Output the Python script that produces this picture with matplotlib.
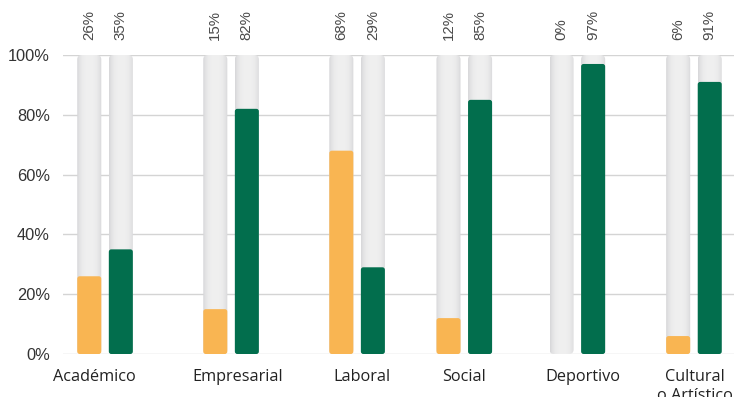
import numpy as np
import matplotlib
matplotlib.use("Agg")
import matplotlib.pyplot as plt
from matplotlib.patches import FancyBboxPatch

# ── Data ──────────────────────────────────────────────────────────────────────
categories = ["Académico", "Empresarial", "Laboral", "Social", "Deportivo", "Cultural\no Artístico"]
orange_vals = [26, 15, 68, 12, 0, 6]
green_vals = [35, 82, 29, 85, 97, 91]
y_ticks = [0, 20, 40, 60, 80, 100]

# layout: group centres (slightly uneven, as in the source chart)
group_pos = [0.0, 1.07, 2.14, 3.05, 4.01, 5.0]
label_shift = [-0.09, 0.06, 0.04, 0.0, 0.05, 0.01]

ORANGE = "#f9b552"
GREEN = "#026e4d"
GRID = "#d4d4d4"

W, H, DPI = 7.34, 3.97, 100
fig = plt.figure(figsize=(W, H), dpi=DPI)
ax = fig.add_axes([63 / 734, 43 / 397, 671 / 734, 299 / 397])

x = np.array(group_pos)
off = 0.134
bw = 0.204
XLIM = (-0.357, 5.34)
ax.set_xlim(*XLIM)
ax.set_ylim(0, 100)

# pixel aspect so rounded corners look round
bb = ax.get_window_extent()
px_x = bb.width / (XLIM[1] - XLIM[0])
px_y = bb.height / 100
aspect = px_x / px_y

grad = np.linspace(0, 1, 64)
shade = 1 - 0.9 * (np.abs(grad - 0.5) * 2) ** 3
bg_img = np.zeros((1, 64, 3))
lo, hi = np.array([0.83, 0.83, 0.84]), np.array([0.94, 0.94, 0.94])
bg_img[0] = lo + (hi - lo) * shade[:, None]


def rbar(xc, h, color=None, r_px=3.5, gradient=False):
    if h <= 0:
        return
    r = r_px / px_x
    p = FancyBboxPatch((xc - bw / 2, 0), bw, h,
                       boxstyle=f"round,pad=0,rounding_size={r}",
                       mutation_aspect=aspect, lw=0,
                       facecolor=color if color else "none", zorder=3 if color else 2)
    ax.add_patch(p)
    if gradient:
        im = ax.imshow(bg_img, extent=(xc - bw / 2, xc + bw / 2, 0, h),
                       aspect="auto", zorder=2, interpolation="bilinear")
        im.set_clip_path(p)


for i in range(len(categories)):
    for xc, v, c in ((x[i] - off, orange_vals[i], ORANGE), (x[i] + off, green_vals[i], GREEN)):
        rbar(xc, 100, gradient=True, r_px=4.5)
        rbar(xc, v, color=c, r_px=2.5)
        ax.annotate(f"{v}%", xy=(xc, 100), xytext=(0, 10.5), textcoords="offset points",
                    rotation=90, ha="center", va="bottom", fontsize=10.8,
                    color="#4a4a4a", family="Liberation Sans", annotation_clip=False)

ax.set_aspect("auto")
ax.set_xlim(*XLIM)
ax.set_ylim(0, 100)

ax.set_yticks(y_ticks)
ax.set_yticklabels([f"{t}%" for t in y_ticks], family="Liberation Sans", fontsize=11.8, color="#333333")
ax.yaxis.grid(True, color=GRID, lw=1)
ax.set_axisbelow(True)
ax.tick_params(axis="y", length=0, pad=9.4)

ax.set_xticks(x + np.array(label_shift))
ax.set_xticklabels(categories, family="Open Sans", fontsize=11.7, color="#222222", linespacing=1.25)
ax.tick_params(axis="x", length=0, pad=11)

for s in ax.spines.values():
    s.set_visible(False)

fig.savefig("out.png", dpi=DPI)
